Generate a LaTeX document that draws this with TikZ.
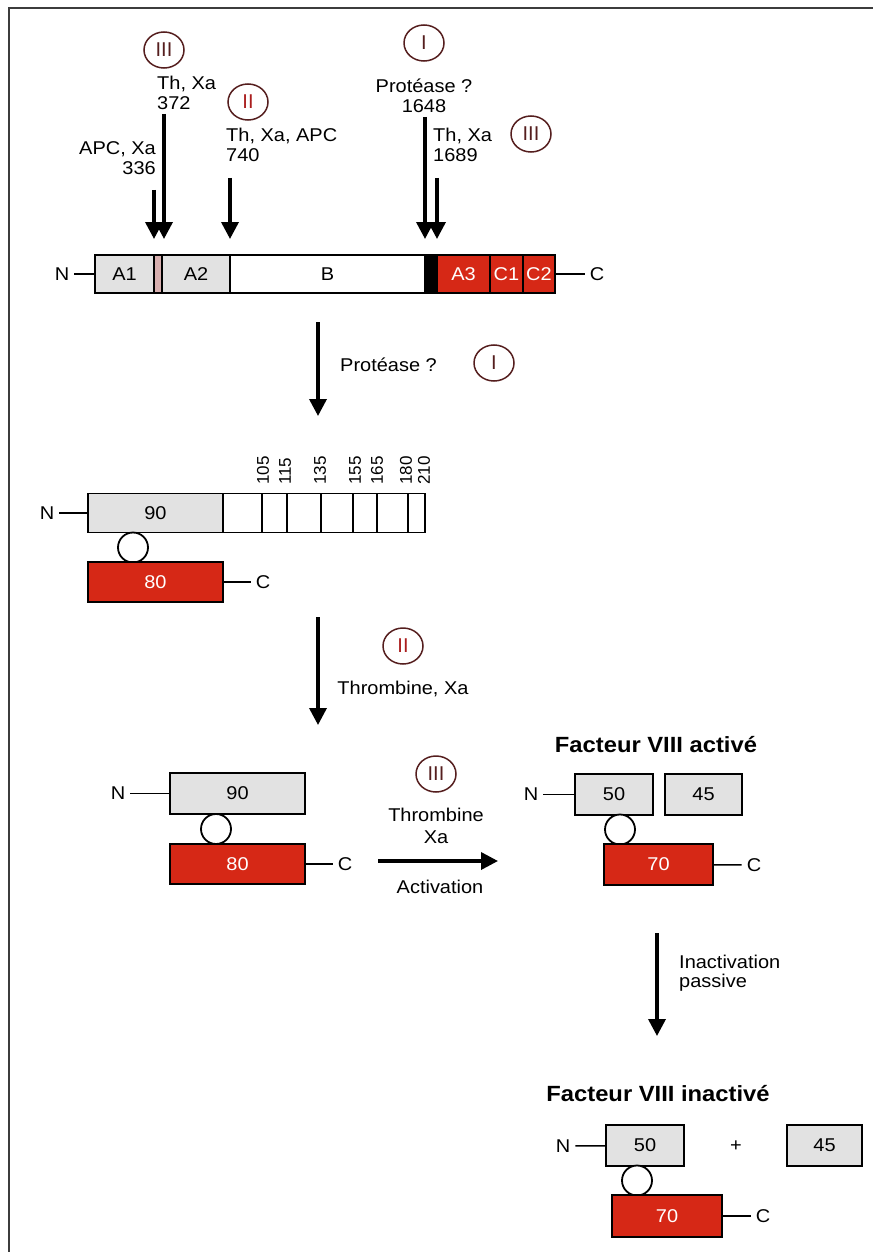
\documentclass[tikz,border=0pt]{standalone}
\usepackage{fontspec}
\setmainfont{Liberation Sans}[FakeStretch=1.08]
\newfontfamily\plainf{Liberation Sans}
\usetikzlibrary{arrows.meta,shapes.geometric}
\definecolor{lgray}{RGB}{226,226,226}
\definecolor{fred}{RGB}{214,40,22}
\definecolor{pinkc}{RGB}{215,175,175}
\definecolor{circc}{RGB}{85,30,30}
\definecolor{numred}{RGB}{170,30,30}
\definecolor{framec}{RGB}{60,60,60}
\newcommand\fsz{\fontsize{18.5}{19.5}\selectfont}
\newcommand\fsmall{\plainf\fontsize{17}{17}\selectfont}
\newcommand\fnum{\plainf\fontsize{20}{20}\selectfont}
\newcommand\ftitle{\fontsize{22}{22}\selectfont\bfseries}
\begin{document}
\begin{tikzpicture}[x=1pt,y=-1pt,
  every node/.style={font=\fsz, inner sep=1pt},
  seg/.style={draw=black, line width=1.8pt, minimum height=38pt, inner sep=0pt},
  gseg/.style={seg, fill=lgray},
  wseg/.style={seg, fill=white},
  rseg/.style={seg, fill=fred, text=white},
  term/.style={inner sep=5pt},
  numc/.style={ellipse, draw=circc, line width=1.5pt, minimum width=40pt, minimum height=36pt, inner sep=0pt, text=circc, font=\fnum},
  link/.style={circle, draw=black, fill=white, line width=1.8pt, minimum size=30pt, inner sep=0pt},
  cut/.style={line width=3.5pt, -{Triangle[width=17pt,length=17pt]}},
  stem/.style={line width=1.5pt},
  rot/.style={rotate=90, anchor=west, font=\fsmall},
  ttl/.style={font=\ftitle},
]
\useasboundingbox (0,0) rectangle (873,1252);
\draw[framec, line width=2.5pt] (9,1252) -- (9,8) -- (873,8);

% ---------- top chain ----------
\node[gseg, minimum width=59pt] (A1) at (124.5,274) {A1};
\node[seg, fill=pinkc, minimum width=8pt] (pk) at (158,274) {};
\node[gseg, minimum width=68pt] (A2) at (196,274) {A2};
\node[wseg, minimum width=195pt] (B) at (327.5,274) {B};
\node[seg, fill=black, minimum width=12pt] (blk) at (431,274) {};
\node[rseg, minimum width=53pt] (A3) at (463.5,274) {A3};
\node[rseg, minimum width=33pt] (C1) at (506.5,274) {C1};
\node[rseg, minimum width=32pt] (C2) at (539,274) {C2};
\node[term] (N1) at (62,274) {N};
\node[term] (Ct1) at (597,274) {C};
\draw[stem] (N1) -- (A1);
\draw[stem] (C2) -- (Ct1);

% labels and cleavage arrows
\node[anchor=east, align=right] (l336) at (157,158) {APC, Xa\\336};
\node[anchor=west, align=left] (l372) at (156,93) {Th, Xa\\372};
\node[anchor=west, align=left] (l740) at (225,145) {Th, Xa, APC\\740};
\node[align=center] (l1648) at (424,96) {Protéase ?\\1648};
\node[anchor=west, align=left] (l1689) at (432,145) {Th, Xa\\1689};
\node[numc] (c3a) at (164,50) {III};
\node[numc, text=numred] (c2a) at (248,102) {II};
\node[numc] (c1a) at (424,43) {I};
\node[numc] (c3b) at (531,134) {III};

\coordinate (s336) at (154,190);  \coordinate (t336) at (154,239);
\coordinate (s372) at (164,114);  \coordinate (t372) at (164,239);
\coordinate (s740) at (230,178);  \coordinate (t740) at (230,239);
\coordinate (s1648) at (425,117); \coordinate (t1648) at (425,239);
\coordinate (s1689) at (437,178); \coordinate (t1689) at (437,239);
\draw[cut] (s336) -- (t336);
\draw[cut] (s372) -- (t372);
\draw[cut] (s740) -- (t740);
\draw[cut] (s1648) -- (t1648);
\draw[cut] (s1689) -- (t1689);

% ---------- step I ----------
\coordinate (m1s) at (318,322); \coordinate (m1e) at (318,416);
\draw[cut] (m1s) -- (m1e);
\node[anchor=west] (p1) at (339,365) {Protéase ?};
\node[numc] (c1b) at (494,363) {I};

% ---------- second form ----------
\node[gseg, minimum width=135pt, minimum height=39pt] (g90) at (155.5,513) {90};
\node[wseg, minimum width=39pt, minimum height=39pt] (w1) at (242.5,513) {};
\node[wseg, minimum width=25pt, minimum height=39pt] (w2) at (274.5,513) {};
\node[wseg, minimum width=34pt, minimum height=39pt] (w3) at (304,513) {};
\node[wseg, minimum width=32pt, minimum height=39pt] (w4) at (337,513) {};
\node[wseg, minimum width=24pt, minimum height=39pt] (w5) at (365,513) {};
\node[wseg, minimum width=31pt, minimum height=39pt] (w6) at (392.5,513) {};
\node[wseg, minimum width=17pt, minimum height=39pt] (w7) at (416.5,513) {};
\node[rot] (k105) at (263,486) {105};
\node[rot] (k115) at (285,486) {115};
\node[rot] (k135) at (320,486) {135};
\node[rot] (k155) at (355,486) {155};
\node[rot] (k165) at (377,486) {165};
\node[rot] (k180) at (406,486) {180};
\node[rot] (k210) at (424,486) {210};
\node[term] (N2) at (47,513) {N};
\draw[stem] (N2) -- (g90);
\node[link] (lk2) at (133,547.5) {};
\node[rseg, minimum width=135pt, minimum height=40pt] (r80a) at (155.5,582) {80};
\node[term] (Ct2) at (263,582) {C};
\draw[stem] (r80a) -- (Ct2);

% ---------- step II ----------
\coordinate (m2s) at (318,617); \coordinate (m2e) at (318,725);
\draw[cut] (m2s) -- (m2e);
\node[numc, text=numred] (c2b) at (403,646) {II};
\node (thx) at (403,689) {Thrombine, Xa};

% ---------- third form ----------
\node[gseg, minimum width=135pt, minimum height=41pt] (g90b) at (237.5,793.5) {90};
\node[term] (N3) at (118,793.5) {N};
\draw[stem] (N3) -- (g90b);
\node[link] (lk3) at (216,829) {};
\node[rseg, minimum width=135pt, minimum height=40pt] (r80b) at (237.5,864) {80};
\node[term] (Ct3) at (345,864) {C};
\draw[stem] (r80b) -- (Ct3);

% ---------- step III (activation) ----------
\node[numc] (c3c) at (436,774) {III};
\node[align=center] (thxa) at (436,826) {Thrombine\\[2pt]Xa};
\coordinate (h1) at (378,861); \coordinate (h2) at (498,861);
\draw[cut] (h1) -- (h2);
\node (act) at (440,887) {Activation};

% ---------- activated factor ----------
\node[ttl] (t1) at (656,745) {Facteur VIII activé};
\node[gseg, minimum width=78pt, minimum height=41pt] (b50a) at (614,794.5) {50};
\node[gseg, minimum width=77pt, minimum height=41pt] (b45a) at (703.5,794.5) {45};
\node[term] (N4) at (531,794.5) {N};
\draw[stem] (N4) -- (b50a);
\node[link] (lk4) at (620,829.5) {};
\node[rseg, minimum width=109pt, minimum height=41pt] (r70a) at (658.5,864.5) {70};
\node[term] (Ct4) at (754,865) {C};
\draw[stem] (r70a) -- (Ct4);

% ---------- passive inactivation ----------
\coordinate (m3s) at (657,933); \coordinate (m3e) at (657,1036);
\draw[cut] (m3s) -- (m3e);
\node[anchor=west, align=left] (inact) at (678,973) {Inactivation\\passive};

% ---------- inactivated factor ----------
\node[ttl] (t2) at (658,1094) {Facteur VIII inactivé};
\node[gseg, minimum width=78pt, minimum height=41pt] (b50b) at (645,1145.5) {50};
\node (plus) at (736,1146) {+};
\node[gseg, minimum width=75pt, minimum height=41pt] (b45b) at (824.5,1145.5) {45};
\node[term] (N5) at (563,1146) {N};
\draw[stem] (N5) -- (b50b);
\node[link] (lk5) at (637,1180.5) {};
\node[rseg, minimum width=110pt, minimum height=42pt] (r70b) at (667,1216) {70};
\node[term] (Ct5) at (763,1216) {C};
\draw[stem] (r70b) -- (Ct5);
\end{tikzpicture}
\end{document}
